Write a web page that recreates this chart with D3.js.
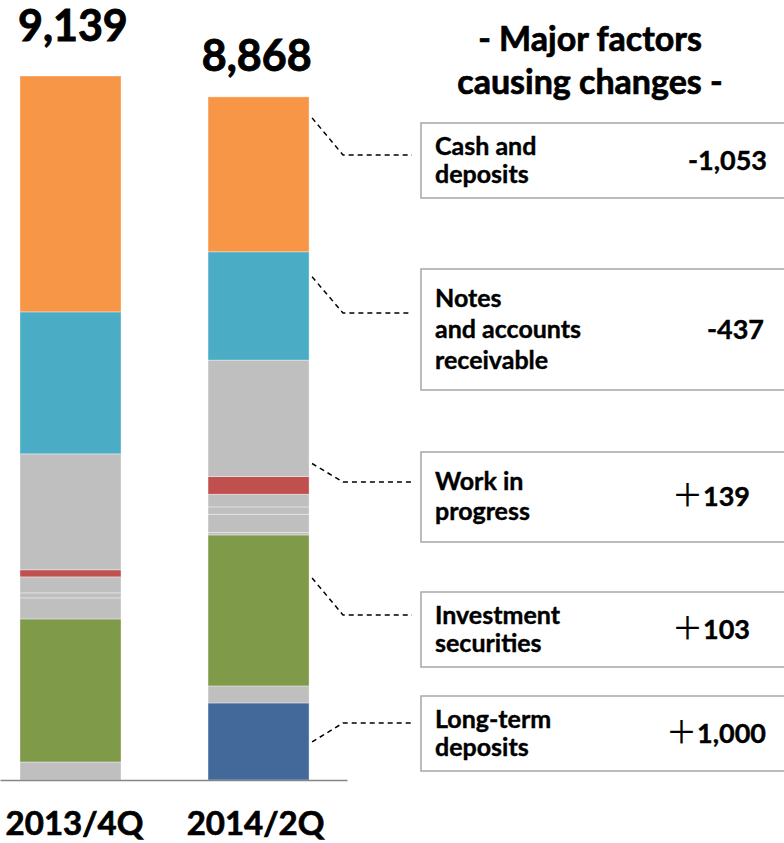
<!DOCTYPE html>
<html>
<head>
<meta charset="utf-8">
<script src="https://cdn.jsdelivr.net/npm/d3@7"></script>
<style>
	body { margin: 0; background: #fff; }
	svg { display: block; font-family: Lato, "Noto Sans", sans-serif; font-weight: bold; }
</style>
</head>
<body>
<div id="chart-area"></div>
<script>
// DATA
var categories = ["2013/4Q", "2014/2Q"];
var totals = [9139, 8868];
// stack order, bottom to top
var segmentKeys = ["Long-term deposits", "Other 1", "Investment securities", "Other 2", "Other 3",
	"Other 4", "Other 5", "Work in progress", "Other 6", "Notes and accounts receivable", "Cash and deposits"];
var values2013Q4 = [0, 234, 1857, 0, 273, 65, 208, 91, 1506, 1843, 3062];
var values2014Q2 = [1000, 221, 1960, 30, 239, 95, 165, 230, 1511, 1406, 2011];

var factorKeys = ["Cash and deposits", "Notes and accounts receivable", "Work in progress",
	"Investment securities", "Long-term deposits"];
var factorLabels = [["Cash and", "deposits"], ["Notes", "and accounts", "receivable"], ["Work in", "progress"],
	["Investment", "securities"], ["Long-term", "deposits"]];
var factorChanges = [-1053, -437, 139, 103, 1000];

var titleLines = ["- Major factors", "causing changes -"];

// styles
var segmentColor = {
	"Long-term deposits": "#43699b",
	"Investment securities": "#7f9b4a",
	"Work in progress": "#c0504d",
	"Notes and accounts receivable": "#4bacc6",
	"Cash and deposits": "#f79646"
};
var otherGray = "#bfbfbf";

// box layout: top, bottom, line gap, leader y, leader start offset from segment top, value right edge
var boxes = [
	{ top: 123, bottom: 198, gap: 28, hy: 155, off: 21, vx: 767 },
	{ top: 269, bottom: 390, gap: 31, hy: 313, off: 25, vx: 764 },
	{ top: 452, bottom: 542, gap: 30, hy: 482, off: -13, vx: 750 },
	{ top: 592, bottom: 667, gap: 28, hy: 615, off: 43, vx: 750 },
	{ top: 696, bottom: 771, gap: 28, hy: 723, off: 39, vx: 766 }
];

window.onload = () => {
	var W = 784, H = 843;
	var svg = d3.select("#chart-area").append("svg")
		.attr("width", W)
		.attr("height", H);

	// SCALES
	var x = d3.scaleBand()
		.domain(categories)
		.range([0, 347])
		.paddingInner(0.4628)
		.paddingOuter(0.154)
		.align(0.345);
	var y = d3.scaleLinear()
		.domain([0, d3.max(totals)])
		.range([780, 76]);

	// build table for the stack
	var table = categories.map((c, i) => {
		var row = { category: c };
		segmentKeys.forEach((k, j) => {
			row[k] = (i === 0 ? values2013Q4 : values2014Q2)[j];
		});
		return row;
	});
	var series = d3.stack().keys(segmentKeys)(table);

	var layers = svg.append("g").selectAll("g")
		.data(series)
		.enter().append("g")
		.attr("fill", d => segmentColor[d.key] || otherGray);
	layers.selectAll("rect")
		.data(d => d.filter(p => p[1] > p[0]))
		.enter().append("rect")
		.attr("x", d => x(d.data.category))
		.attr("width", x.bandwidth())
		.attr("y", d => y(d[1]))
		.attr("height", d => y(d[0]) - y(d[1]))
		.attr("stroke", "rgba(255,255,255,0.45)")
		.attr("stroke-width", 0.8);

	// X Axis
	var labelShift = [4, -3];
	var xAxis = svg.append("g")
		.attr("transform", "translate(0," + y(0) + ")")
		.call(d3.axisBottom(x).tickSize(0).tickSizeOuter(0));
	xAxis.select(".domain")
		.attr("stroke", "#868686")
		.attr("stroke-width", 1.5);
	xAxis.selectAll("text")
		.attr("x", (d, i) => labelShift[i])
		.attr("y", 55)
		.attr("dy", null)
		.attr("fill", "#000")
		.attr("stroke", "#000")
		.attr("stroke-width", 0.7)
		.attr("font-family", "Lato")
		.attr("font-weight", "bold")
		.attr("font-size", "33px");

	// totals
	var totalOffset = [35, 26];
	svg.append("g").selectAll("text")
		.data(categories)
		.enter().append("text")
		.attr("x", (d, i) => x(d) + x.bandwidth() / 2 + labelShift[i] * 0.6)
		.attr("y", (d, i) => y(totals[i]) - totalOffset[i])
		.attr("text-anchor", "middle")
		.attr("font-size", "43px")
		.attr("stroke", "#000")
		.attr("stroke-width", 0.9)
		.text((d, i) => d3.format(",")(totals[i]));

	// title
	svg.append("g").selectAll("text")
		.data(titleLines)
		.enter().append("text")
		.attr("x", 590)
		.attr("y", (d, i) => 51 + i * 43)
		.attr("text-anchor", "middle")
		.attr("font-size", "34px")
		.attr("stroke", "#000")
		.attr("stroke-width", 0.7)
		.text(d => d);

	// factor boxes
	var bar2 = categories[1];
	var x2 = x(bar2) + x.bandwidth();
	var stackTop = {};
	series.forEach(s => { stackTop[s.key] = s[1][1]; });

	factorKeys.forEach((key, i) => {
		var b = boxes[i];
		var mid = (b.top + b.bottom) / 2;
		var g = svg.append("g");

		g.append("rect")
			.attr("x", 421)
			.attr("y", b.top)
			.attr("width", 400)
			.attr("height", b.bottom - b.top)
			.attr("fill", "#fff")
			.attr("stroke", "#a6a6a6")
			.attr("stroke-width", 1.5);

		var lines = factorLabels[i];
		g.selectAll(".lbl")
			.data(lines)
			.enter().append("text")
			.attr("class", "lbl")
			.attr("x", 435)
			.attr("y", (d, j) => mid - (lines.length - 1) * b.gap / 2 + 8 + j * b.gap)
			.attr("font-size", "25px")
			.attr("stroke", "#000")
			.attr("stroke-width", 0.4)
			.text(d => d);

		var v = factorChanges[i];
		var t = g.append("text")
			.attr("x", b.vx)
			.attr("y", mid + 9)
			.attr("text-anchor", "end")
			.attr("font-size", "27px")
			.attr("stroke", "#000")
			.attr("stroke-width", 0.4);
		if (v > 0) {
			t.append("tspan")
				.attr("font-family", "'Noto Sans CJK JP'")
				.attr("font-weight", "400")
				.attr("font-size", "31px")
				.attr("stroke-width", 0.2)
				.text("\uFF0B");
			t.append("tspan").text(d3.format(",")(v));
		} else {
			t.text("-" + d3.format(",")(-v));
		}

		// leader
		var sy = y(stackTop[key]) + b.off;
		g.append("path")
			.attr("d", "M" + (x2 + 3) + "," + sy + "L343," + b.hy + "L412," + b.hy)
			.attr("fill", "none")
			.attr("stroke", "#000")
			.attr("stroke-width", 1.5)
			.attr("stroke-dasharray", "5,4");
	});
};
</script>
</body>
</html>
